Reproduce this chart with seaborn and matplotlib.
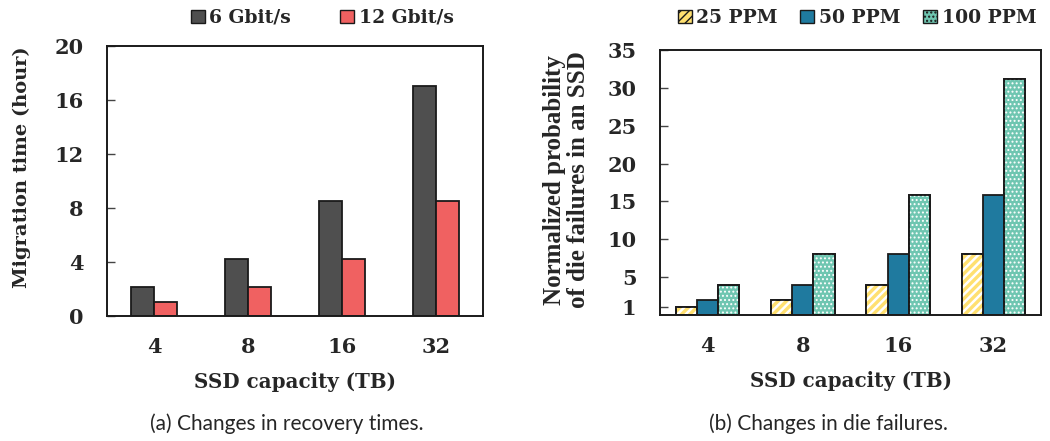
import matplotlib
matplotlib.use("Agg")
import matplotlib.pyplot as plt
import seaborn as sns
import pandas as pd
from matplotlib.patches import Rectangle, Patch

capacities = ["4", "8", "16", "32"]
speeds = ["6 Gbit/s", "12 Gbit/s"]
time_6g = [2.13, 4.25, 8.5, 17.05]
time_12g = [1.07, 2.13, 4.25, 8.53]

ppm_levels = ["25 PPM", "50 PPM", "100 PPM"]
prob_25 = [1.0, 2.0, 4.0, 8.0]
prob_50 = [2.0, 4.0, 8.0, 15.8]
prob_100 = [4.0, 8.0, 15.8, 31.2]

left_yticks = [0, 4, 8, 12, 16, 20]
right_yticks = [1, 5, 10, 15, 20, 25, 30, 35]

sns.set_theme(style="white")
SERIF = ["DejaVu Serif"]
TIMES = ["Liberation Serif", "DejaVu Serif"]
plt.rcParams["font.family"] = SERIF

df_a = pd.DataFrame({
    "cap": capacities * 2,
    "speed": [speeds[0]] * 4 + [speeds[1]] * 4,
    "val": time_6g + time_12g,
})
df_b = pd.DataFrame({
    "cap": capacities * 3,
    "ppm": [ppm_levels[0]] * 4 + [ppm_levels[1]] * 4 + [ppm_levels[2]] * 4,
    "val": prob_25 + prob_50 + prob_100,
})

fig = plt.figure(figsize=(10.5, 4.41), dpi=100)
W, H = 1050, 441
ax1 = fig.add_axes([107 / W, 1 - 316 / H, 376 / W, 270 / H])
ax2 = fig.add_axes([660 / W, 1 - 315 / H, 381 / W, 265 / H])

colors_a = ["#4f4f4f", "#f06161"]
colors_b = ["#ffe070", "#1f7a9f", "#6fc6b1"]
hatches_b = ["////", None, "...."]
hatch_lw = [1.8, 0, 0.9]

sns.barplot(data=df_a, x="cap", y="val", hue="speed", palette=colors_a,
            width=0.49, ax=ax1, edgecolor="#1a1a1a", linewidth=1.3,
            saturation=1, legend=False, errorbar=None)
sns.barplot(data=df_b, x="cap", y="val", hue="ppm", palette=colors_b,
            width=0.665, ax=ax2, edgecolor="#1a1a1a", linewidth=1.3,
            saturation=1, legend=False, errorbar=None)

# hatches on right panel: white hatch overlay + black outline overlay
bars = [p for p in ax2.patches if isinstance(p, Rectangle)]
for i, p in enumerate(bars):
    k = i // 4
    h = hatches_b[k]
    if h:
        with plt.rc_context({"hatch.linewidth": hatch_lw[k]}):
            hp = Rectangle(p.get_xy(), p.get_width(), p.get_height(), fill=False,
                           hatch=h, edgecolor="white", linewidth=0,
                           zorder=p.get_zorder() + 0.05)
            if hasattr(hp, "set_hatch_linewidth"):
                hp.set_hatch_linewidth(hatch_lw[k])
            ax2.add_patch(hp)
        ax2.add_patch(Rectangle(p.get_xy(), p.get_width(), p.get_height(),
                                fill=False, edgecolor="#1a1a1a", linewidth=1.3,
                                zorder=p.get_zorder() + 0.1))

for ax in (ax1, ax2):
    ax.set_xlim(-0.5, 3.5)
    for s in ax.spines.values():
        s.set_color("#1a1a1a")
        s.set_linewidth(1.4)
    ax.tick_params(axis="y", direction="in", length=6, width=1, color="#444444", left=True, pad=17)
    ax.tick_params(axis="x", length=0, pad=15)
    ax.set_xlabel("SSD capacity (TB)", fontsize=14.3, fontweight="bold", labelpad=11)
    for lab in ax.get_xticklabels():
        lab.set_fontsize(15)
        lab.set_fontweight("bold")

ax1.set_ylim(0, 20)
ax1.set_yticks(left_yticks)
ax1.set_yticklabels([str(v) for v in left_yticks], fontsize=15, fontweight="bold")
ax1.set_ylabel("Migration time (hour)", fontsize=14, fontweight="bold")
ax1.yaxis.set_label_coords(-76 / 376, 0.55)

ax2.set_ylim(0, 35)
ax2.set_yticks(right_yticks)
ax2.set_yticklabels([str(v) for v in right_yticks], fontsize=15, fontweight="bold")
ax2.set_ylabel("Normalized probability\nof die failures in an SSD", fontsize=18,
               fontweight="bold", family=TIMES, linespacing=1.05)
ax2.yaxis.set_label_coords(-70 / 381, 0.51)

leg_prop = dict(size=13.5, weight="bold", family=SERIF)
h_a = [Patch(facecolor=c, edgecolor="#1a1a1a", linewidth=1.0) for c in colors_a]
fig.legend(h_a, speeds, loc="center", bbox_to_anchor=(322 / W, 1 - 18 / H), ncol=2,
           frameon=False, prop=leg_prop,
           handlelength=0.75, handleheight=0.75, handletextpad=0.25, columnspacing=2.6)

h_b = [Patch(facecolor=c, edgecolor="#1a1a1a", linewidth=1.0, hatch=h)
       for c, h in zip(colors_b, hatches_b)]
fig.legend(h_b, ppm_levels, loc="center", bbox_to_anchor=(857 / W, 1 - 18 / H), ncol=3,
           frameon=False, prop=leg_prop,
           handlelength=0.75, handleheight=0.75, handletextpad=0.25, columnspacing=1.2)

cap_font = ["Lato", "DejaVu Sans"]
fig.text(287 / W, 1 - 424 / H, "(a) Changes in recovery times.", ha="center", va="center",
         fontsize=15, family=cap_font)
fig.text(828 / W, 1 - 424 / H, "(b) Changes in die failures.", ha="center", va="center",
         fontsize=15, family=cap_font)

fig.savefig("out.png", dpi=100)
